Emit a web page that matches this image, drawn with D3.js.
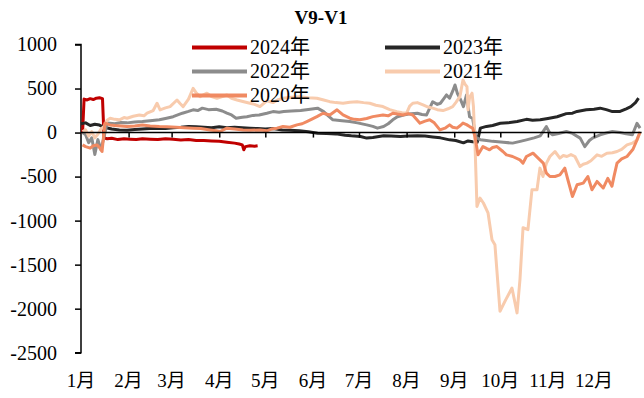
<!DOCTYPE html>
<html>
<head>
<meta charset="utf-8">
<script src="https://cdn.jsdelivr.net/npm/d3@7"></script>
<style>
  html, body { margin: 0; padding: 0; background: #fff; }
  svg text { font-family: "Liberation Serif", "Times New Roman", "Noto Sans CJK SC", serif; fill: #000; }
</style>
</head>
<body>
<svg id="chart" width="644" height="398"></svg>
<script>
// Spread V9-V1 by day of year (0 = Jan 1), one series per year.
const s2024 = [[1,-10],[2,380],[4,370],[6,385],[8,375],[10,390],[12,395],[14,385],[15,-60],[17,-70],[20,-65],[24,-80],[28,-70],[32,-75],[36,-80],[40,-70],[45,-75],[50,-80],[55,-70],[60,-75],[65,-85],[70,-80],[75,-90],[80,-90],[85,-95],[90,-100],[95,-110],[100,-120],[103,-130],[105,-140],[106,-195],[107,-160],[110,-150],[113,-155],[115,-150]];

const s2023 = [[0,100],[3,110],[6,80],[9,95],[12,85],[15,60],[20,40],[25,30],[30,25],[35,35],[40,40],[45,45],[50,50],[55,45],[60,55],[65,60],[70,70],[75,65],[80,60],[85,55],[90,65],[95,55],[100,60],[105,55],[110,50],[115,45],[120,40],[125,45],[131,30],[136,25],[142,20],[148,10],[154,-7],[160,-10],[166,-15],[172,-30],[176,-37],[182,-45],[186,-63],[190,-55],[197,-37],[202,-40],[208,-45],[213,-40],[219,-35],[224,-40],[229,-50],[234,-60],[240,-83],[244,-90],[249,-117],[252,-95],[255,-105],[258,-110],[260,50],[264,70],[268,80],[273,105],[278,110],[284,125],[290,150],[294,140],[299,145],[304,160],[310,180],[316,215],[320,220],[323,240],[329,258],[334,265],[338,277],[342,260],[346,238],[351,240],[355,270],[358,295],[361,340],[363,390]];

const s2022 = [[1,0],[3,-25],[5,-115],[7,-60],[9,-250],[11,-80],[13,-195],[15,-50],[17,110],[22,100],[26,115],[30,110],[35,120],[40,125],[45,135],[51,145],[55,160],[60,180],[63,200],[66,220],[70,240],[73,258],[76,250],[79,277],[83,260],[88,265],[92,245],[95,220],[98,200],[101,163],[105,175],[108,180],[112,195],[116,200],[121,220],[125,238],[129,230],[132,238],[137,245],[143,250],[148,262],[154,277],[158,238],[161,190],[164,145],[170,135],[175,125],[180,110],[186,87],[190,70],[193,50],[197,68],[200,100],[203,145],[206,180],[210,200],[215,215],[219,220],[222,205],[225,200],[229,350],[232,320],[234,333],[236,380],[238,427],[240,390],[242,470],[243.5,540],[245,447],[247,380],[249,295],[251,427],[253,180],[255,160],[257,-50],[260,-83],[264,-90],[268,-100],[275,-110],[281,-120],[286,-100],[290,-83],[295,-60],[299,-37],[303,68],[305,0],[307,-25],[311,-10],[316,12],[320,-10],[325,-63],[328,-160],[331,-90],[333,-63],[338,-25],[342,-5],[346,12],[351,0],[355,-15],[359,-25],[362,105],[364,50]];

const s2021 = [[1,10],[3,30],[5,-40],[7,10],[9,-60],[11,-20],[13,40],[15,70],[17,140],[19,163],[22,150],[25,145],[28,170],[30,163],[34,185],[38,200],[41,190],[43,220],[47,250],[49.5,333],[51.5,258],[55,280],[58,295],[62.5,370],[64.5,330],[66.5,295],[70,380],[73,503],[75,450],[77.5,408],[82,447],[85,410],[88.5,390],[92,410],[95,427],[98,390],[101.6,370],[106,350],[110,333],[113,320],[116.5,295],[121,360],[125,340],[128,370],[131.5,390],[137,400],[142.6,408],[148,395],[153.6,390],[158,370],[162,351],[166,340],[170.6,333],[175,345],[179.7,351],[184,340],[188,333],[192,310],[196.6,295],[201,260],[205.7,238],[209,225],[212,220],[214,300],[216,333],[219,340],[222.7,314],[226,290],[229,277],[232,260],[235.7,250],[239,270],[242,295],[244,340],[246.7,408],[248.7,597],[250,550],[251.3,521],[252,258],[253,400],[254.6,447],[255.5,300],[256.5,-115],[257.2,-500],[257.8,-839],[259.8,-744],[262,-800],[265,-911],[267.6,-1217],[269.5,-1273],[272.8,-2029],[276.5,-1900],[280.6,-1765],[283.9,-2048],[285.8,-1670],[287.8,-1081],[291,-1103],[293.6,-650],[296.9,-650],[298.8,-404],[300.8,-499],[303,-350],[305.3,-272],[308.6,-215],[311.8,-290],[314,-260],[316.4,-272],[319,-250],[321.6,-272],[324.9,-385],[327,-360],[329.4,-347],[332,-320],[336,-253],[339,-270],[342.4,-234],[346,-230],[349,-215],[352,-190],[355.5,-140],[359,-120],[362,-83],[364,0]];

const s2020 = [[1,-140],[3,-160],[6,-177],[8,-150],[10.4,-140],[12,-170],[13.7,-215],[15.6,107],[18.9,87],[22,80],[26,75],[30,68],[35,75],[40,87],[45,75],[51,68],[56,65],[62,61],[67,55],[73,50],[78,45],[84,30],[88,20],[90.5,12],[95,50],[100,40],[105.5,30],[110,25],[116.5,30],[121,20],[124,40],[127.6,50],[131.5,68],[136,60],[140.6,87],[144,100],[147,125],[150,150],[153.6,181],[157.6,220],[162,200],[166.7,258],[170.6,200],[175,163],[178,150],[181.6,145],[186,160],[190,181],[196.6,200],[200,190],[203,220],[206,210],[209.6,200],[213,215],[216,200],[218,160],[220.7,107],[224,130],[227,145],[230,110],[233.7,30],[237,50],[240,87],[242,60],[244.8,50],[247,80],[248.7,107],[251,90],[253,68],[255,50],[256.5,-45],[258.5,-253],[261.7,-159],[264,-180],[266,-196],[268,-170],[270.8,-159],[274.7,-215],[277,-253],[281,-272],[285.8,-310],[287.8,-347],[290,-272],[294.3,-234],[298.8,-310],[301,-347],[303,-461],[305.3,-499],[308.6,-499],[311.8,-480],[315,-404],[317,-536],[320,-726],[323,-593],[327,-574],[330,-499],[332.7,-650],[336,-555],[340,-630],[343,-520],[345.7,-610],[347,-500],[349,-347],[352,-300],[355.5,-272],[359.4,-190],[362,-83],[364,10]];

const seriesNames = ["2024年", "2023年", "2022年", "2021年", "2020年"];
const seriesData = [s2024, s2023, s2022, s2021, s2020];
const seriesColors = ["#C00000", "#262626", "#8C8C8C", "#F8CBAD", "#F08A62"];

const monthStarts = [0, 31, 59, 90, 120, 151, 181, 212, 243, 273, 304, 334];
const monthLabels = ["1月","2月","3月","4月","5月","6月","7月","8月","9月","10月","11月","12月"];
const yTicks = [1000, 500, 0, -500, -1000, -1500, -2000, -2500];

const svg = d3.select("#chart");

const x = d3.scaleLinear().domain([0, 365]).range([81, 641.6]);
const y = d3.scaleLinear().domain([-2500, 1000]).range([352.7, 44.5]);

// Title
svg.append("text")
  .attr("x", 321).attr("y", 24)
  .attr("text-anchor", "middle")
  .attr("font-size", 19).attr("font-weight", "bold")
  .text("V9-V1");

// Y axis (plain hyphen for negative labels)
const yAxis = d3.axisLeft(y).tickValues(yTicks).tickSize(6).tickPadding(18).tickFormat(d => String(d));
const gy = svg.append("g").attr("transform", "translate(81,0)").call(yAxis);
gy.select(".domain").attr("stroke", "#000").attr("stroke-width", 1.5).attr("d", `M-6,${y(1000)}H0V${y(-2500)}H-6`);
gy.selectAll(".tick line").attr("stroke", "#000").attr("stroke-width", 1.5);
gy.selectAll(".tick text").attr("font-size", 20).attr("font-family", null);

// Series lines
const line = d3.line().x(d => x(d[0])).y(d => y(d[1]));
seriesData.forEach((s, i) => {
  svg.append("path")
    .datum(s)
    .attr("fill", "none")
    .attr("stroke", seriesColors[i])
    .attr("stroke-width", 3)
    .attr("stroke-linejoin", "round")
    .attr("d", line);
});

// Horizontal axis along zero with month ticks
const xAxis = d3.axisBottom(x).tickValues(monthStarts.slice(1)).tickSize(5).tickFormat("");
const gx = svg.append("g").attr("transform", `translate(0,${y(0)})`).call(xAxis);
gx.select(".domain").attr("stroke", "#000").attr("stroke-width", 1.5).attr("d", `M${x(0)},0H${x(365)}`);
gx.selectAll(".tick line").attr("stroke", "#000").attr("stroke-width", 1.5);

// Month labels along the bottom
svg.append("g").selectAll("text")
  .data(monthStarts)
  .join("text")
  .attr("x", d => x(d))
  .attr("y", 387)
  .attr("text-anchor", "middle")
  .attr("font-size", 19)
  .text((d, i) => monthLabels[i]);

// Legend: two columns, three rows
const legendCols = [192, 385];
const legendRows = [47.5, 71.5, 95.5];
seriesNames.forEach((name, i) => {
  const cx = legendCols[i % 2];
  const cy = legendRows[Math.floor(i / 2)];
  const g = svg.append("g");
  g.append("line")
    .attr("x1", cx).attr("x2", cx + 55)
    .attr("y1", cy).attr("y2", cy)
    .attr("stroke", seriesColors[i]).attr("stroke-width", 4);
  g.append("text")
    .attr("x", cx + 58).attr("y", cy + 6.5)
    .attr("font-size", 20)
    .text(name);
});
</script>
</body>
</html>
